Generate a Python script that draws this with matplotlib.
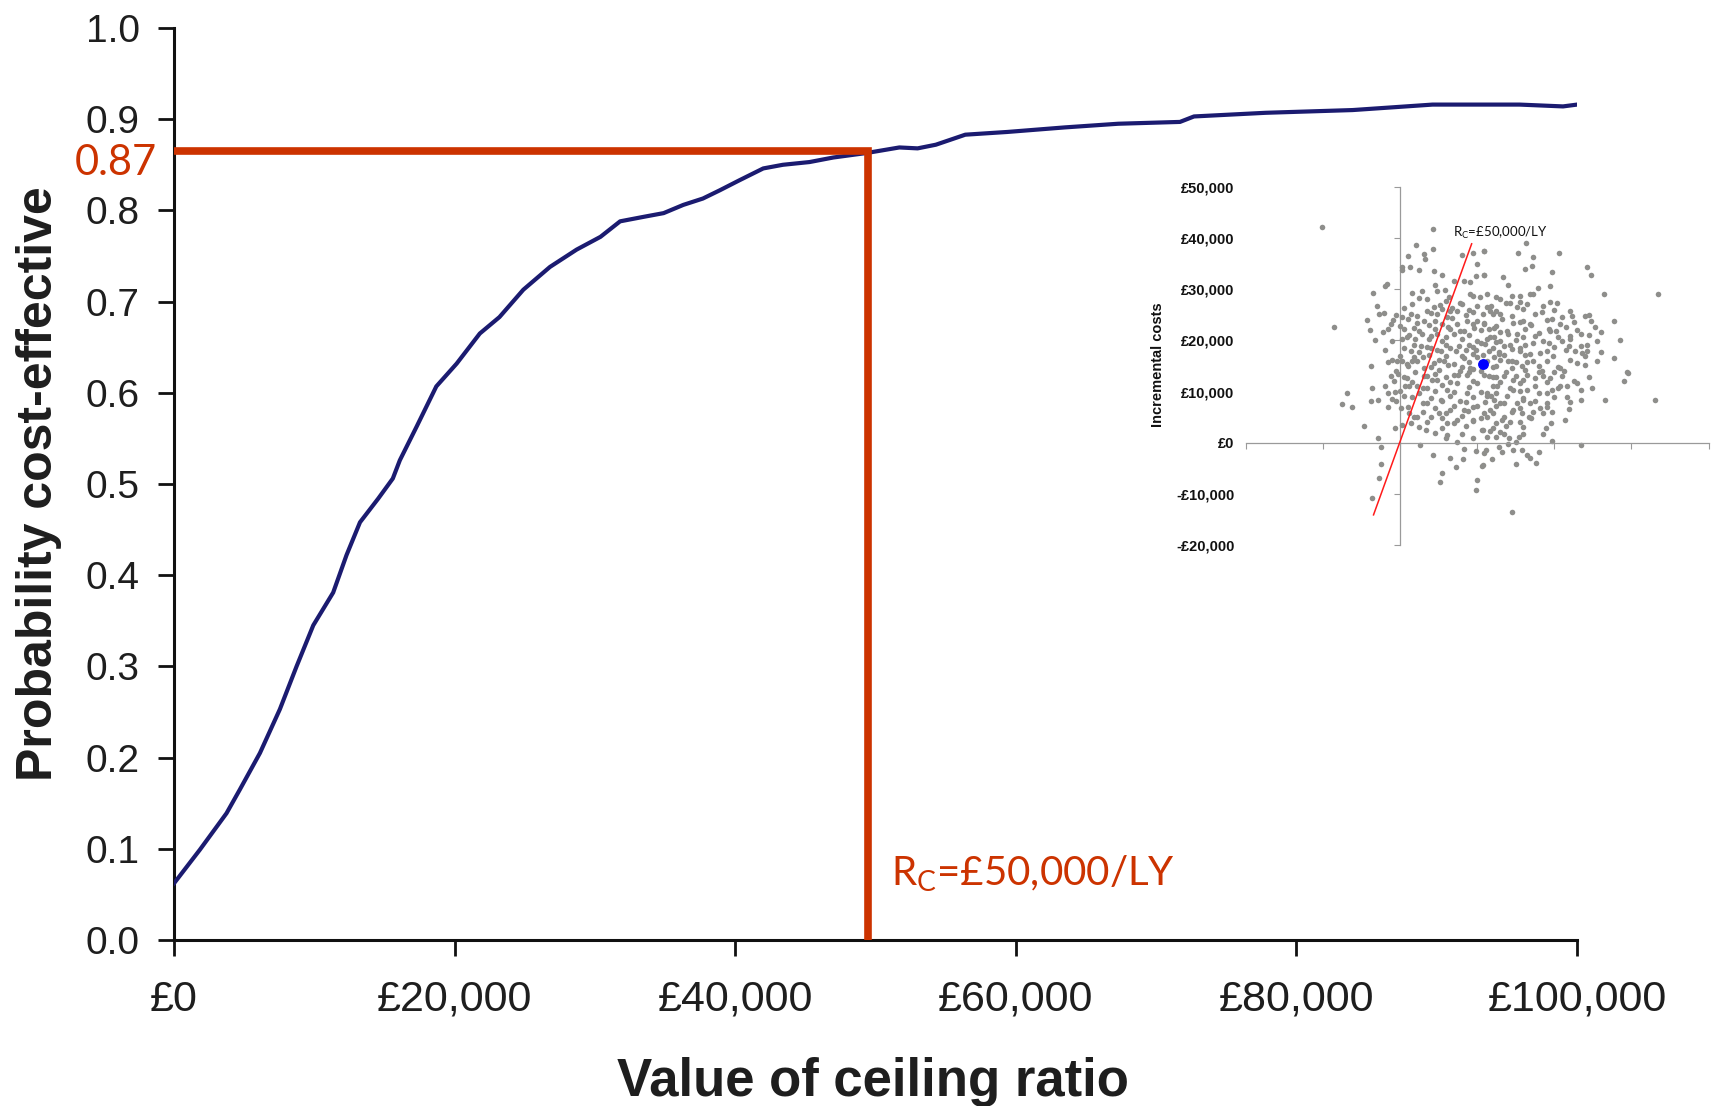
import numpy as np
import matplotlib
matplotlib.use("Agg")
import matplotlib.pyplot as plt
from matplotlib import font_manager as fm
from matplotlib.ticker import FixedLocator, FuncFormatter


def has_font(name):
    try:
        fm.findfont(fm.FontProperties(family=name), fallback_to_default=False)
        return True
    except Exception:
        return False


NARROW = "Liberation Sans Narrow" if has_font("Liberation Sans Narrow") else "Liberation Sans"
SANS = "Liberation Sans"
CAL = "Lato"

# ---------------- main chart data (CEAC) ----------------
ceiling_values = [0, 1850, 3750, 4700, 6130, 7550, 8740, 9930, 11350, 12300, 13260,
                  14560, 15600, 16100, 17300, 18700, 20150, 21800, 23200, 24900, 26800,
                  28700, 30400, 31800, 33500, 34900, 36300, 37700, 38900, 40300, 42000,
                  43400, 45300, 47000, 49400, 51700, 53000, 54300, 56400, 59400, 63500,
                  67300, 71700, 72700, 77800, 84000, 89700, 95900, 99000, 100000]
prob_ce = [0.062, 0.099, 0.139, 0.165, 0.205, 0.253, 0.300, 0.345, 0.381, 0.422, 0.458,
           0.484, 0.506, 0.526, 0.563, 0.607, 0.632, 0.665, 0.683, 0.713, 0.738,
           0.757, 0.771, 0.788, 0.793, 0.797, 0.806, 0.813, 0.822, 0.833, 0.846,
           0.850, 0.853, 0.858, 0.863, 0.869, 0.868, 0.872, 0.883, 0.886, 0.891,
           0.895, 0.897, 0.903, 0.907, 0.910, 0.916, 0.916, 0.914, 0.916]

x_ticks = [0, 20000, 40000, 60000, 80000, 100000]
x_tick_labels = ["£0", "£20,000", "£40,000", "£60,000", "£80,000", "£100,000"]
y_ticks = [0.0, 0.1, 0.2, 0.3, 0.4, 0.5, 0.6, 0.7, 0.8, 0.9, 1.0]
y_tick_labels = ["0.0", "0.1", "0.2", "0.3", "0.4", "0.5", "0.6", "0.7", "0.8", "0.9", "1.0"]

ceiling_rc = 49500          # where the red marker line is drawn
prob_at_rc = 0.865
prob_label = "0.87"
rc_label = r"R$_\mathregular{C}$=£50,000/LY"

# ---------------- inset data (CE plane) ----------------
# scattered / outer simulations
inc_effect = [
    -1.01, 0.43, 0.21, 0.43, 0.10, 0.31, 0.32, 0.02, 0.03, 0.13, 0.24, 0.44, 0.55, 0.70,
    0.81, 0.95, 1.09, 1.00, 1.09, 0.98, 0.91, 0.83, -0.17, -0.20, -0.35, -0.30, -0.27, -0.21,
    -0.43, -0.39, -0.86, -0.22, -0.12, -0.09, -0.32, -0.16, -0.38, -0.04, 0.03, 0.05, 0.14,
    0.16, 0.28, 0.35, 0.45, 0.48, 0.58, 0.63, 0.44, 0.55, 0.65, 0.48, 0.61, 0.74, 0.81, 0.91,
    1.04, 1.00, 1.13, 1.07, 0.94, 0.87, 0.74, 0.65, 0.55, 0.31, 0.22, 0.18, 0.09, 0.20, 0.29,
    0.37, 0.48, 0.59, 0.70, 0.83, 0.96, 1.09, 1.15, 1.13, 1.00, 0.89, 0.76, 0.65, 0.53, 0.40,
    0.27, 0.14, 0.05, 0.03, 0.09, 0.22, 0.31, 0.44, 0.57, 0.70, 0.83, 0.94, 1.15, 1.13, 0.91,
    0.78,
    1.09, 1.53, 1.63, 1.73, 2.06, 1.62, 1.71, 1.09, 1.34, 1.40, 1.97, 2.42, 2.48, 1.94, 1.79,
    2.64, 3.34, 1.13, 1.24, 1.45, 1.56, 1.69, 1.73, 1.37, 1.52, 1.65, 1.84, 1.94, 2.03, 2.20,
    2.23, 2.40, 2.47, 2.53, 2.77, 2.34, 2.21, 2.08, 1.97, 1.93, 2.02, 1.80, 1.69, 1.60, 1.47,
    1.30, 1.17, 1.09, 1.22, 1.39, 1.52, 1.60, 1.73, 1.93, 2.10, 2.19, 2.27, 2.42, 2.36, 2.42,
    2.77, 2.94, 2.08, 1.91, 1.82, 1.69, 1.56, 1.43, 1.30, 1.17, 1.28, 1.45, 1.58, 1.73, 1.84,
    2.12, 2.30,
    -0.69, -0.75, -0.62, -0.36, -0.38, -0.29, -0.19, -0.16, -0.07, -0.10, -0.16, -0.46, -0.29,
    -0.24, -0.24, -0.27, -0.36, -0.06, 0.03, 0.01, 0.05, 0.12, 0.14, 0.09, 0.07, -0.12, -0.02,
    0.26, 0.43, 0.55, 0.52, 0.65, 0.73, 0.74, 0.82, 0.83, 0.98, 1.00, 0.98, 1.06, 1.06, 1.11,
    0.61, 0.34, 0.22, 0.35, 0.40, 0.50, 0.61, 0.65, 0.74, 0.83, 0.94, 1.00, 1.13, 0.35, 0.48,
    0.61, 0.74, 0.87, 1.00, 1.13, 0.22, 0.31, 0.53, 0.78, 1.09, 0.87,
    2.95, 2.90, 2.66, 3.30, 2.49, 2.34, 2.34, 2.30, 2.17, 2.16, 2.19, 2.14, 2.07, 1.97, 1.95,
    1.86, 1.97, 1.96, 1.89, 1.91, 1.82, 1.85, 1.97, 2.35, 1.80, 1.76, 1.69, 1.65, 1.58, 1.51,
    1.47, 1.40, 1.32, 1.28, 1.19, 1.09, 1.07, 1.45, 1.50, 1.60, 1.54, 1.41, 1.35, 1.24, 1.13,
    1.17, 1.07, 1.37, 1.43, 1.32, 1.58, 1.67, 1.73, 1.69, 1.80, 1.65, 1.56, 1.47, 1.39, 1.30,
    1.22, 1.13, 1.26, 1.35, 1.47, 1.65, 1.80, 1.15, 1.09, 1.52, 1.60, 1.47, 1.17,
    0.95, 1.20, 1.30, 1.00, 0.85, 1.20, 1.35, 1.50, 0.70, 1.25, 0.60, 0.45, 1.05, 0.30, 1.55,
]
inc_cost_k = [
    42.1, 41.7, 38.6, 37.9, 36.6, 37.0, 36.0, 34.3, 33.7, 34.3, 33.8, 33.5, 32.8, 31.7,
    36.8, 37.1, 37.4, 35.0, 32.8, 32.7, 31.4, 31.7, 31.1, 30.6, 29.3, 26.8, 25.1, 25.4,
    24.0, 22.0, 22.7, 21.7, 23.2, 24.0, 20.0, 15.8, 15.1, 16.0, 24.5, 22.2, 25.2,
    29.2, 29.6, 28.1, 30.9, 29.7, 29.9, 28.4, 26.5, 26.1, 25.8, 25.2, 24.5, 25.8, 27.1, 29.1,
    28.4, 26.8, 26.5, 25.2, 25.5, 23.8, 23.2, 22.2, 23.2, 23.8, 23.5, 22.5, 20.6, 20.2, 21.2,
    20.2, 21.2, 20.6, 21.2, 21.9, 22.5, 23.2, 22.2, 20.2, 19.9, 19.2, 18.9, 18.6, 17.9, 18.6,
    18.9, 17.9, 18.6, 16.0, 15.3, 16.0, 14.7, 15.6, 16.0, 15.3, 16.6, 17.3, 17.9, 16.0, 14.7,
    14.0,
    37.5, 37.1, 39.1, 36.3, 37.1, 34.0, 34.5, 32.8, 32.5, 30.9, 33.3, 34.3, 32.8, 30.6, 30.3,
    29.1, 29.1, 29.1, 28.4, 28.7, 28.6, 29.0, 29.1, 27.4, 26.5, 27.1, 25.5, 27.6, 27.3, 25.8,
    24.8, 24.8, 23.8, 22.7, 23.8, 21.2, 20.9, 23.3, 24.2, 22.2, 21.9, 21.5, 23.2, 23.8, 23.5,
    25.2, 25.8, 23.5, 22.5, 21.9, 21.2, 20.6, 19.6, 19.6, 19.9, 18.9, 17.9, 19.2, 17.6, 17.9,
    16.6, 13.9, 14.7, 16.0, 17.6, 17.3, 18.6, 19.2, 19.9, 20.6, 17.3, 16.0, 15.0, 16.0, 14.0,
    14.0, 15.6,
    9.7, 7.55, 6.9, 10.7, 8.2, 8.4, 11.0, 9.8, 10.0, 8.5, 6.9, 3.2, 0.9,
    -0.8, -4.1, -6.8, -10.8, 2.8, 3.5, 6.8, 9.1, 5.8, 3.8, 12.7, 11.0, 13.0, 13.5,
    -0.45, -2.4, -6.0, -7.7, -2.9, -4.8, 0.2, -3.1, -1.2, -1.6, -7.3, -9.2, -4.5, 2.5, -1.4,
    1.5, 2.5, 5.1, 7.7, 5.1, 5.8, 3.8, 6.4, 4.5, 6.4, 4.5, 7.1, 5.1, 10.7, 12.3,
    10.4, 11.7, 9.7, 11.7, 9.1, 11.0, 13.0, 8.4, 8.1, 13.3, 13.3,
    13.7, 12.1, 8.3, 8.3, 10.7, 10.4, 8.3, 11.7, 11.0, 8.9, 6.6, 4.5, 11.0, 10.4, 12.7,
    13.0, 6.1, 3.8, 2.8, 7.8, 6.8, 1.7, 0.4, -0.4, -1.8, -4.0, -2.9, -2.4, -1.4, -4.2,
    -1.4, -0.3, -1.8, -0.9, -3.1, -2.0, -4.4, -13.6, 0.2, 1.8, 1.2, 0.9, 1.8, 1.2, 1.2,
    2.2, 2.5, 3.2, 4.1, 4.5, 5.8, 5.1, 6.1, 7.8, 9.7, 10.4, 11.7, 10.4, 9.1, 7.8,
    8.4, 9.7, 11.0, 13.0, 12.3, 13.3, 13.8, 13.0, 5.8, 7.8, 8.4, 6.4, 6.4,
    14.5, 14.8, 16.2, 16.8, 18.2, 18.5, 17.2, 15.8, 13.2, 12.8, 17.0, 13.5, 19.5, 16.8, 18.0,
]
# dense core of the cloud
core_effect = [
    0.25, 0.60, 0.95, 1.30, 1.55,
    0.15, 0.52, 0.78, 1.18, 1.42, 1.85,
    0.05, 0.35, 0.68, 0.90, 1.25, 1.60, 2.00,
    -0.05, 0.22, 0.40, 0.85, 1.20, 1.45, 1.75, 2.10, 2.45,
    0.10, 0.45, 0.68, 1.00, 1.32, 1.55, 1.90, 2.25,
    0.00, 0.38, 0.62, 0.95, 1.25, 1.70, 2.15,
    -0.15, 0.25, 0.45, 0.78, 1.05, 1.30, 1.62, 1.95, 2.30, 2.60,
    0.12, 0.40, 0.90, 1.22, 1.40, 1.75, 2.05, 2.45,
    -0.10, 0.02, 0.55, 0.80, 1.25, 1.50, 1.85, 2.20, 2.55, 2.85,
    0.18, 0.35, 0.60, 0.95, 1.10, 1.35, 1.62, 2.00, 2.35,
    -0.20, 0.25, 0.48, 0.72, 0.98, 1.28, 1.45, 1.90, 2.15, 2.60,
    0.00, 0.18, 0.38, 0.80, 1.08, 1.22, 1.62, 1.98, 2.40,
    -0.10, 0.15, 0.50, 0.90, 1.40, 1.65, 2.20, 2.55,
    0.10, 0.40, 0.62, 0.80, 1.25, 1.45, 1.80, 2.05, 2.40,
    -0.05, 0.20, 0.50, 0.90, 1.05, 1.38, 1.62, 2.00,
    0.05, 0.35, 0.60, 0.75, 1.20, 1.50, 1.75, 2.10, 2.45,
    -0.08, 0.15, 0.42, 0.65, 0.95, 1.30, 1.60, 1.90, 2.25,
    0.12, 0.30, 0.55, 0.90, 1.20, 1.42, 1.75, 2.05,
    0.00, 0.25, 0.45, 0.70, 1.05, 1.25, 1.55, 1.90,
    0.15, 0.40, 0.65, 0.95, 1.18, 1.60, 2.00,
    -0.05, 0.30, 0.55, 0.85, 1.10, 1.35, 1.75, 2.20,
    0.10, 0.45, 0.70, 0.95, 1.25, 1.55, 1.90,
    0.30, 0.60, 0.88, 1.20, 1.45, 1.85,
    0.18, 0.55, 0.80, 1.05, 1.35, 1.70,
    0.35, 0.70, 0.95, 1.25, 1.55,
    0.25, 0.55, 0.85, 1.20, 1.60,
    0.45, 0.80, 1.30,
    0.60, 0.95,
]
core_cost_k = [
    28.3, 27.8, 28.6, 28.1, 27.6,
    27.2, 26.9, 27.4, 26.7, 27.3, 26.8,
    26.3, 25.8, 26.4, 26.0, 25.7, 26.2, 25.9,
    25.0, 24.8, 25.3, 24.9, 25.2, 24.7, 25.1, 24.6, 25.0,
    24.2, 23.9, 24.3, 23.8, 24.1, 23.7, 24.0, 23.6,
    22.9, 23.1, 22.7, 23.2, 22.8, 23.0, 22.6,
    22.3, 21.9, 22.2, 21.8, 22.1, 21.7, 22.2, 21.9, 22.0, 21.6,
    21.1, 20.8, 21.0, 20.7, 21.2, 20.9, 20.6, 21.0,
    19.8, 20.2, 19.9, 20.3, 19.7, 20.1, 19.8, 20.2, 19.9, 20.0,
    19.2, 18.8, 19.1, 18.7, 19.3, 18.9, 19.2, 18.8, 19.0,
    18.1, 17.8, 18.2, 17.9, 18.1, 17.7, 18.3, 17.9, 18.2, 17.8,
    17.0, 16.8, 17.2, 16.9, 17.1, 16.7, 17.2, 16.9, 17.0,
    16.1, 15.9, 16.2, 15.8, 16.0, 15.7, 16.1, 15.9,
    15.0, 14.8, 15.2, 14.9, 15.1, 14.7, 15.0, 14.8, 15.2,
    14.1, 13.9, 14.2, 13.8, 14.1, 13.9, 14.2, 13.8,
    12.9, 13.1, 12.8, 13.2, 12.9, 13.1, 12.7, 13.0, 12.8,
    12.1, 11.8, 12.2, 11.9, 12.1, 11.8, 12.2, 11.9, 12.0,
    11.1, 10.8, 11.2, 10.9, 11.0, 10.7, 11.1, 10.8,
    10.1, 9.8, 10.2, 9.9, 10.0, 9.7, 10.1, 9.8,
    9.0, 8.8, 9.2, 8.9, 9.1, 8.8, 9.0,
    8.1, 7.8, 8.2, 7.9, 8.0, 7.7, 8.1, 7.9,
    7.0, 6.8, 7.2, 6.9, 7.1, 6.8, 7.0,
    6.1, 5.8, 6.2, 5.9, 6.0, 5.8,
    5.0, 4.8, 5.2, 4.9, 5.1, 4.8,
    4.1, 3.8, 4.2, 3.9, 4.0,
    3.0, 2.8, 3.2, 2.9, 3.1,
    2.0, 1.8, 2.1,
    1.0, 0.9,
]
mean_effect = [1.073]
mean_cost_k = [15.43]
threshold_effect = [-0.343, 0.929]
threshold_cost_k = [-14.1, 38.9]

inset_x_ticks = [-2, -1, 0, 1, 2, 3, 4]
inset_y_ticks_k = [-20, -10, 0, 10, 20, 30, 40, 50]

RED = "#CC3300"
NAVY = "#1b1b70"
TXT = "#1e1e1e"

fig = plt.figure(figsize=(17.17, 11.06), dpi=100)
fig.patch.set_facecolor("white")

# ---------------- main axes ----------------
ax = fig.add_axes([0.1013, 0.1501, 0.8172, 0.8246])
ax.plot(ceiling_values, prob_ce, color=NAVY, lw=3.0, solid_joinstyle="round", zorder=3)
ax.set_xlim(0, 100000)
ax.set_ylim(0, 1.0)

for s in ["top", "right"]:
    ax.spines[s].set_visible(False)
for s in ["left", "bottom"]:
    ax.spines[s].set_linewidth(2.2)
    ax.spines[s].set_color("#111111")

ax.set_xticks(x_ticks)
ax.set_xticklabels(x_tick_labels, fontfamily=NARROW, fontsize=31, color=TXT)
ax.set_yticks(y_ticks)
ax.set_yticklabels(y_tick_labels, fontfamily=SANS, fontsize=28, color=TXT)
ax.tick_params(axis="both", direction="out", length=11.5, width=2.0, color="#111111")
ax.tick_params(axis="y", pad=13)
ax.tick_params(axis="x", pad=17)

ax.set_ylabel("Probability cost-effective", fontfamily=SANS, fontweight="bold",
              fontsize=36, color=TXT)
ax.yaxis.set_label_coords(-0.080, 0.5)
ax.set_xlabel("Value of ceiling ratio", fontfamily=NARROW, fontweight="bold",
              fontsize=38, color=TXT, va="top")
ax.xaxis.set_label_coords(0.498, -0.128)

# red marker lines
ax.plot([0, ceiling_rc, ceiling_rc], [prob_at_rc, prob_at_rc, 0], color=RED, lw=5.5,
        solid_joinstyle="miter", solid_capstyle="butt", zorder=4, clip_on=False)
ax.annotate(prob_label, xy=(0, prob_at_rc), xytext=(-12, -17), textcoords="offset points",
            ha="right", va="baseline", color=RED, fontfamily=CAL, fontsize=30)
ax.annotate(rc_label, xy=(ceiling_rc, 0), xytext=(16.5, 39.5), textcoords="offset points",
            ha="left", va="baseline", color=RED, fontfamily=CAL, fontsize=29)

# ---------------- inset: cost-effectiveness plane ----------------
ins = fig.add_axes([0.7255, 0.5072, 0.2696, 0.3237])
ins.set_facecolor("none")
ins.scatter(inc_effect + core_effect, inc_cost_k + core_cost_k, s=16, color="#8e8e8b",
            linewidths=0, zorder=2)
ins.plot(threshold_effect, threshold_cost_k, color="#ff1a1a", lw=1.1, zorder=3)
ins.plot(mean_effect, mean_cost_k, "o", color="#0000ff", ms=6.8, zorder=4)
ins.text(0.69, 40.3, rc_label, fontfamily=CAL, fontsize=9.5, color="#111111",
         ha="left", va="baseline")
ins.set_xlim(-2, 4)
ins.set_ylim(-20, 50)

for s in ["top", "right", "left"]:
    ins.spines[s].set_visible(False)
ins.spines["bottom"].set_position(("data", 0))
ins.spines["bottom"].set_color("#9a9a9a")
ins.spines["bottom"].set_linewidth(0.9)
ins.xaxis.set_major_locator(FixedLocator(inset_x_ticks))
ins.tick_params(axis="x", direction="out", length=4, width=0.8, color="#9a9a9a",
                labelbottom=False)
ins.yaxis.set_major_locator(FixedLocator(inset_y_ticks_k))
ins.yaxis.set_major_formatter(FuncFormatter(
    lambda v, p: ("-£{:,.0f}".format(-v * 1000) if v < 0 else "£{:,.0f}".format(v * 1000))))
ins.tick_params(axis="y", length=0, pad=8.0, labelsize=10.5, labelcolor="#111111")
for lab in ins.get_yticklabels():
    lab.set_fontfamily(SANS)
    lab.set_fontweight("bold")
ins.set_ylabel("Incremental costs", fontfamily=SANS, fontweight="bold", fontsize=10.5,
               color="#111111")
ins.yaxis.set_label_coords(-0.175, 0.503)

zero_frac = (0 - inset_x_ticks[0]) / (inset_x_ticks[-1] - inset_x_ticks[0])
sec = ins.secondary_yaxis(zero_frac)
for s in sec.spines.values():
    s.set_color("#9a9a9a")
    s.set_linewidth(0.9)
sec.set_yticks(inset_y_ticks_k)
sec.tick_params(axis="y", direction="out", length=4, width=0.8, color="#9a9a9a",
                labelleft=False, labelright=False)

fig.savefig("out.png", dpi=100, facecolor="white")
